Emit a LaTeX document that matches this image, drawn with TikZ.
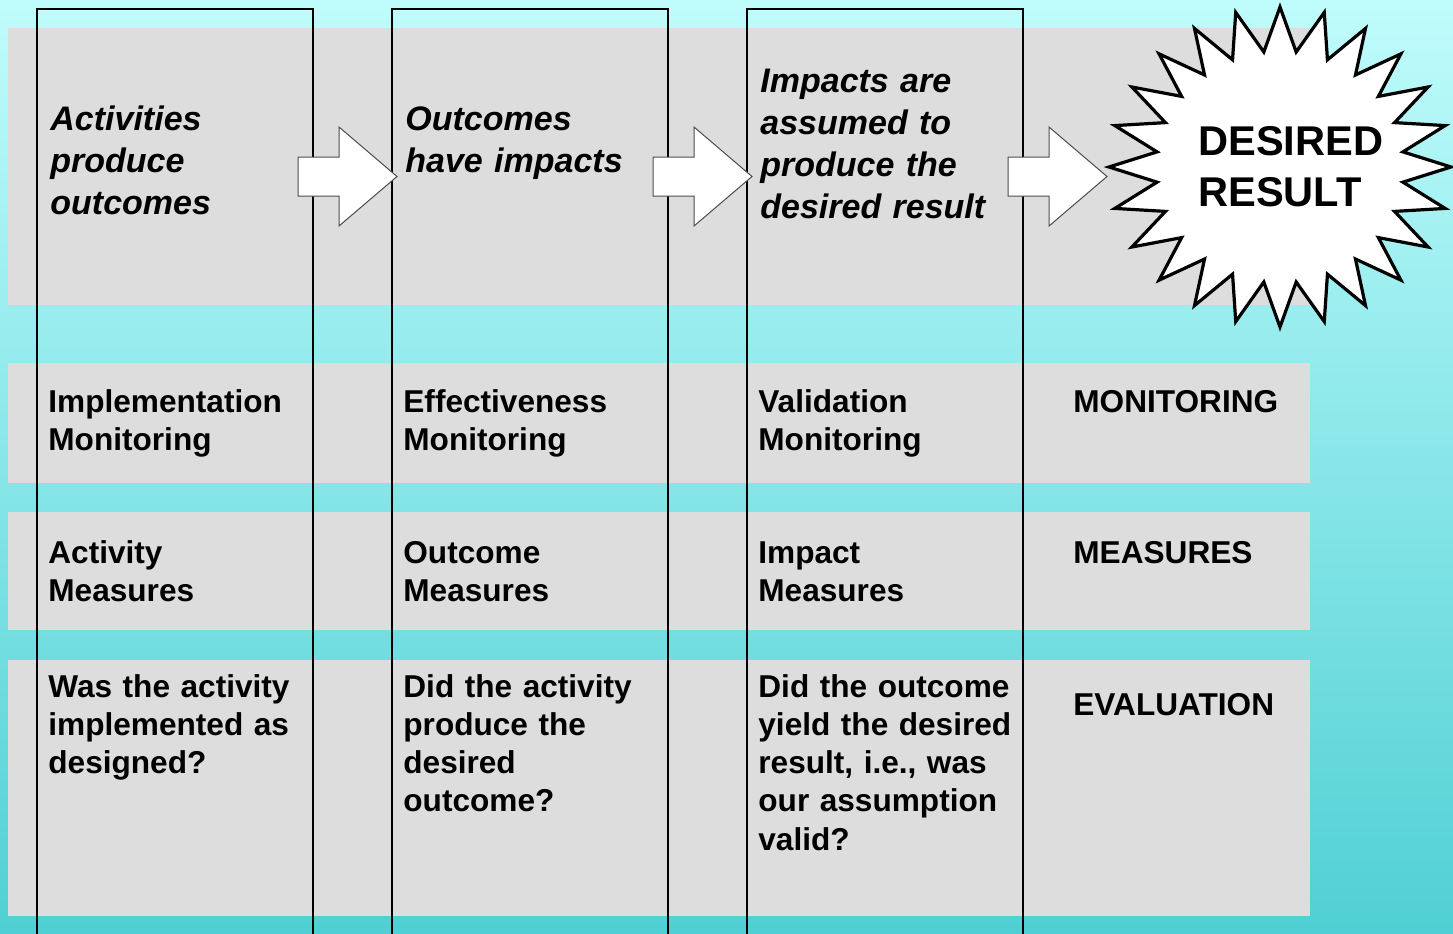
\documentclass[tikz,border=0pt]{standalone}
\usepackage{fontspec}
\setmainfont{Liberation Sans}
\definecolor{sky}{RGB}{192,252,252}
\definecolor{skymid}{RGB}{146,231,231}
\definecolor{sea}{RGB}{80,208,212}
\definecolor{band}{RGB}{221,221,221}

\begin{document}
\begin{tikzpicture}[x=0.5pt,y=-0.5pt,
  rowtext/.style={anchor=base west,inner sep=0pt,text width=140pt,align=left,
    font=\fontsize{15.8pt}{19.15pt}\selectfont\bfseries},
  toptext/.style={anchor=base west,inner sep=0pt,text width=140pt,align=left,
    font=\fontsize{17pt}{21pt}\selectfont\bfseries\itshape},
  bigarrow/.style={draw=black!70,fill=white,line width=0.5pt}]
  \useasboundingbox (0,0) rectangle (1453,933);
  \shade[top color=sky,middle color=skymid,bottom color=sea] (0,0) rectangle (1453,933);% background

  % gray bands
  \fill[band] (8,28) rectangle (1310,305);% top band
  \fill[band] (8,363) rectangle (1310,483);% monitoring
  \fill[band] (8,512) rectangle (1310,630);% measures
  \fill[band] (8,660) rectangle (1310,916);% evaluation

  % columns
  \def\colW{276}
  \foreach \cx in {37,392,747}
    \draw[line width=0.7pt] (\cx,9) rectangle (\cx+\colW,945);

  % block arrows
  \foreach \ax in {298,653,1008}
    \draw[bigarrow] (\ax,157) -- (\ax+41,157) -- (\ax+41,127) -- (\ax+99,176.5)
      -- (\ax+41,226) -- (\ax+41,196) -- (\ax,196) -- cycle;

  % starburst
  \begin{scope}[shift={(1280,167)}]
    \draw[line width=1.6pt,fill=white,miter limit=10] (0:171 and 160)
      \foreach \k in {0,...,22}{ -- ({\k*15+7.5}:124 and 116) -- ({\k*15+15}:171 and 160)}
      -- (352.5:124 and 116) -- cycle;
  \end{scope}
  \node[anchor=base west,inner sep=0pt,text width=100pt,align=left,
    font=\fontsize{20.8pt}{25.5pt}\selectfont\bfseries] (result) at (1198,155) {DESIRED\\RESULT};

  % top row
  \node[toptext] (act) at (50,130) {Activities\\produce\\outcomes};
  \node[toptext] (out) at (405,130) {Outcomes\\have impacts};
  \node[toptext] (imp) at (760,92) {Impacts are\\assumed to\\produce the\\desired result};

  % monitoring row
  \node[rowtext] (implmon) at (48,412) {Implementation\\Monitoring};
  \node[rowtext] (effmon) at (403,412) {Effectiveness\\Monitoring};
  \node[rowtext] (valmon) at (758,412) {Validation\\Monitoring};
  \node[rowtext] (monitoring) at (1073,412) {MONITORING};

  % measures row
  \node[rowtext] (actmeas) at (48,563) {Activity\\Measures};
  \node[rowtext] (outmeas) at (403,563) {Outcome\\Measures};
  \node[rowtext] (impmeas) at (758,563) {Impact\\Measures};
  \node[rowtext] (measures) at (1073,563) {MEASURES};

  % evaluation row
  \node[rowtext] (acteval) at (48,697) {Was the activity\\implemented as\\designed?};
  \node[rowtext] (outeval) at (403,697) {Did the activity\\produce the\\desired\\outcome?};
  \node[rowtext] (impeval) at (758,697) {Did the outcome\\yield the desired\\result, i.e., was\\our assumption\\valid?};
  \node[rowtext] (evaluation) at (1073,715) {EVALUATION};
\end{tikzpicture}
\end{document}
